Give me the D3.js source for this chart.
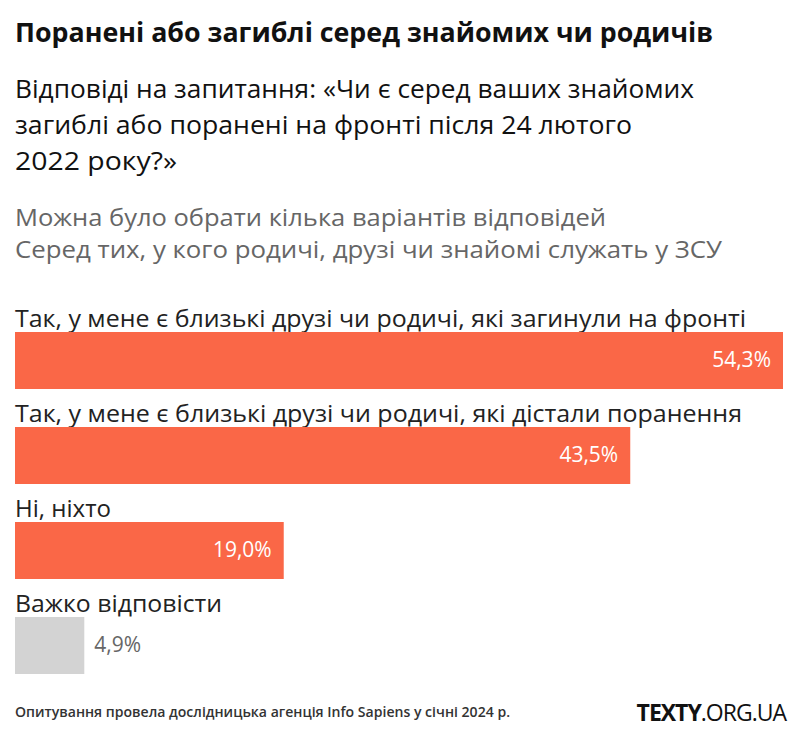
<!DOCTYPE html>
<html>
<head>
<meta charset="utf-8">
<script src="https://cdn.jsdelivr.net/npm/d3@7"></script>
<style>
  body { margin: 0; background: #fff; }
  text { font-family: "Open Sans", "Noto Sans", sans-serif; }
</style>
</head>
<body>
<svg id="chart" width="801" height="744"></svg>
<script>
const categories = [
  "Так, у мене є близькі друзі чи родичі, які загинули на фронті",
  "Так, у мене є близькі друзі чи родичі, які дістали поранення",
  "Ні, ніхто",
  "Важко відповісти"
];
const values = [54.3, 43.5, 19.0, 4.9];
const valueLabels = ["54,3%", "43,5%", "19,0%", "4,9%"];
const highlight = [true, true, true, false];

const title = "Поранені або загиблі серед знайомих чи родичів";
const subtitleLines = [
  "Відповіді на запитання: «Чи є серед ваших знайомих",
  "загиблі або поранені на фронті після 24 лютого",
  "2022 року?»"
];
const noteLines = [
  "Можна було обрати кілька варіантів відповідей",
  "Серед тих, у кого родичі, друзі чи знайомі служать у ЗСУ"
];
const source = "Опитування провела дослідницька агенція Info Sapiens у січні 2024 р.";

const svg = d3.select("#chart");

// stretch a text element horizontally to the width it occupies in the reference layout
function fit(sel, width) {
  sel.attr("textLength", width).attr("lengthAdjust", "spacingAndGlyphs");
}

const titleEl = svg.append("text").attr("x", 15).attr("y", 42)
  .attr("font-size", 26).attr("font-weight", 700).attr("fill", "#111")
  .text(title);
fit(titleEl, 698);

const subWidths = [679, 617, 162];
svg.selectAll("text.sub").data(subtitleLines).join("text")
  .attr("class", "sub")
  .attr("x", 15).attr("y", (d, i) => 98 + i * 36)
  .attr("font-size", 25).attr("fill", "#111")
  .text(d => d)
  .each(function(d, i) { fit(d3.select(this), subWidths[i]); });

const noteWidths = [591, 707];
svg.selectAll("text.note").data(noteLines).join("text")
  .attr("class", "note")
  .attr("x", 15).attr("y", (d, i) => 226 + i * 32)
  .attr("font-size", 23).attr("fill", "#666")
  .text(d => d)
  .each(function(d, i) { fit(d3.select(this), noteWidths[i]); });

const x = d3.scaleLinear().domain([0, d3.max(values)]).range([15, 783]);
const y = d3.scaleBand().domain(d3.range(categories.length)).range([296, 676]).paddingInner(0).paddingOuter(0);

const rows = svg.selectAll("g.row").data(categories).join("g")
  .attr("class", "row")
  .attr("transform", (d, i) => `translate(0,${y(i)})`);

const labelWidths = [731, 727, 96, 207];
rows.append("text")
  .attr("x", 15).attr("y", 31)
  .attr("font-size", 23).attr("fill", "#222")
  .text(d => d)
  .each(function(d, i) { fit(d3.select(this), labelWidths[i]); });

rows.append("rect")
  .attr("x", x(0)).attr("y", 36)
  .attr("width", (d, i) => x(values[i]) - x(0))
  .attr("height", 57)
  .attr("fill", (d, i) => highlight[i] ? "#fa6747" : "#d3d3d3");

rows.append("text")
  .attr("x", (d, i) => highlight[i] ? x(values[i]) - 12 : x(values[i]) + 10)
  .attr("y", 64)
  .attr("dy", "0.35em")
  .attr("text-anchor", (d, i) => highlight[i] ? "end" : "start")
  .attr("font-size", 21)
  .attr("fill", (d, i) => highlight[i] ? "#fff" : "#666")
  .text((d, i) => valueLabels[i]);

const srcEl = svg.append("text").attr("x", 15).attr("y", 717)
  .attr("font-size", 13.5).attr("font-weight", 600).attr("fill", "#333")
  .text(source);
fit(srcEl, 495);

const logo = svg.append("text").attr("x", 786).attr("y", 721)
  .attr("text-anchor", "end").attr("font-size", 23).attr("fill", "#111")
  .attr("letter-spacing", -1);
logo.append("tspan").attr("font-weight", 700).text("TEXTY");
logo.append("tspan").attr("font-weight", 400).text(".ORG.UA");
</script>
</body>
</html>
